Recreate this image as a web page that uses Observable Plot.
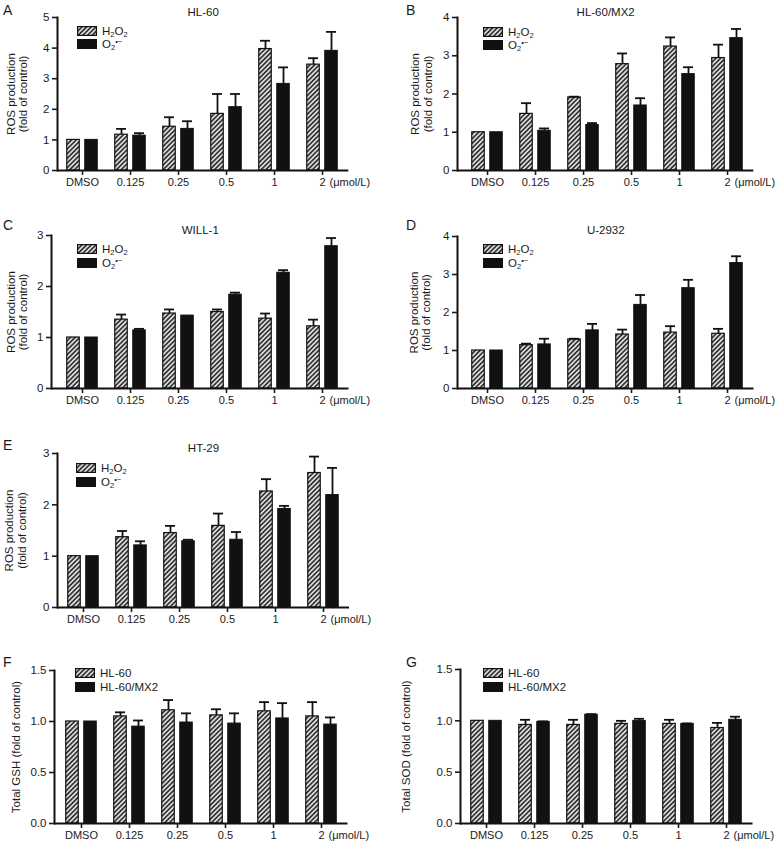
<!DOCTYPE html>
<html><head><meta charset="utf-8">
<script src="https://cdn.jsdelivr.net/npm/d3@7"></script>
<script src="https://cdn.jsdelivr.net/npm/@observablehq/plot@0.6"></script>
<style>
body{margin:0;background:#fff;font-family:"Liberation Sans",Arial,sans-serif;color:#1a1a1a;}
#root{position:relative;width:781px;height:846px;overflow:hidden;background:#fff;}
.panel{position:absolute;}
.letter{position:absolute;font-size:14px;line-height:14px;}
.lg{position:absolute;font-size:11.5px;line-height:12px;white-space:nowrap;}
.sw{position:absolute;width:20px;height:10px;box-sizing:border-box;}
sub{font-size:7.5px;vertical-align:-2px;line-height:0;}
sup{font-size:7.5px;vertical-align:4px;line-height:0;}
</style></head><body>
<svg width="0" height="0" style="position:absolute">
  <defs>
    <pattern id="hatch" patternUnits="userSpaceOnUse" width="3.3" height="3.3" patternTransform="rotate(45)">
      <rect width="3.3" height="3.3" fill="#dcdcdc"/>
      <rect width="1.6" height="3.3" fill="#2e2e2e"/>
    </pattern>
  </defs>
</svg>
<div id="root"></div>
<script>
// ---------- data ----------
const categories = ["DMSO", "0.125", "0.25", "0.5", "1", "2"];
const unitLabel = "(μmol/L)";
const rosSeries = ["H<sub>2</sub>O<sub>2</sub>", "O<sub>2</sub><sup>•−</sup>"];
const cellSeries = ["HL-60", "HL-60/MX2"];
const rosLabel = "ROS production\n(fold of control)";
const gshLabel = "Total GSH (fold of control)";
const sodLabel = "Total SOD (fold of control)";

// A  HL-60
const hl60H2O2 = [1.00, 1.17, 1.43, 1.85, 3.97, 3.46];
const hl60H2O2Err = [0, 0.19, 0.31, 0.65, 0.27, 0.21];
const hl60O2 = [1.00, 1.14, 1.36, 2.07, 2.83, 3.91];
const hl60O2Err = [0, 0.08, 0.25, 0.43, 0.54, 0.62];
// B  HL-60/MX2
const mx2H2O2 = [1.00, 1.48, 1.91, 2.78, 3.24, 2.94];
const mx2H2O2Err = [0, 0.28, 0.02, 0.28, 0.24, 0.35];
const mx2O2 = [1.00, 1.04, 1.19, 1.70, 2.52, 3.46];
const mx2O2Err = [0, 0.06, 0.05, 0.19, 0.18, 0.24];
// C  WILL-1
const willH2O2 = [1.00, 1.35, 1.47, 1.50, 1.37, 1.22];
const willH2O2Err = [0, 0.10, 0.08, 0.05, 0.10, 0.13];
const willO2 = [1.00, 1.14, 1.43, 1.84, 2.27, 2.79];
const willO2Err = [0, 0.03, 0, 0.04, 0.05, 0.16];
// D  U-2932
const u2932H2O2 = [1.00, 1.14, 1.29, 1.42, 1.47, 1.44];
const u2932H2O2Err = [0, 0.04, 0.02, 0.13, 0.17, 0.13];
const u2932O2 = [1.00, 1.16, 1.53, 2.20, 2.64, 3.30];
const u2932O2Err = [0, 0.15, 0.17, 0.26, 0.22, 0.18];
// E  HT-29
const ht29H2O2 = [1.00, 1.37, 1.45, 1.59, 2.26, 2.62];
const ht29H2O2Err = [0, 0.12, 0.14, 0.24, 0.24, 0.32];
const ht29O2 = [1.00, 1.21, 1.29, 1.32, 1.92, 2.19];
const ht29O2Err = [0, 0.08, 0.03, 0.15, 0.06, 0.53];
// F  Total GSH
const gshHL60 = [1.00, 1.05, 1.11, 1.06, 1.10, 1.05];
const gshHL60Err = [0, 0.04, 0.10, 0.06, 0.09, 0.14];
const gshMX2 = [1.00, 0.95, 0.99, 0.98, 1.03, 0.97];
const gshMX2Err = [0, 0.06, 0.09, 0.10, 0.15, 0.07];
// G  Total SOD
const sodHL60 = [1.00, 0.96, 0.96, 0.97, 0.97, 0.93];
const sodHL60Err = [0, 0.05, 0.05, 0.03, 0.04, 0.05];
const sodMX2 = [1.00, 0.99, 1.06, 1.00, 0.97, 1.01];
const sodMX2Err = [0, 0.005, 0.005, 0.02, 0.005, 0.03];

const ticks5 = [0, 1, 2, 3, 4, 5];
const ticks4 = [0, 1, 2, 3, 4];
const ticks3 = [0, 1, 2, 3];
const ticks15 = [0, 0.5, 1.0, 1.5];

// ---------- layout ----------
const STEP = 48.5, OFF = 9, BARW = 13, CAPW = 10.5;
const intFmt = d3.format("d"), decFmt = d3.format(".1f");
const root = document.getElementById("root");

function panel(p) {
  const rows = (v, e) => categories.map((c, i) => ({cat: c, v: v[i], e: e[i]}));
  const r1 = rows(p.s1, p.e1), r2 = rows(p.s2, p.e2);
  const frameRight = p.c0 + 5 * STEP + 25;
  const mL = p.axisX - p.left, mR = p.left + p.width - frameRight;
  const mT = p.frameTop - p.top, mB = p.top + p.height - p.frameBottom;
  const ins = (STEP - BARW) / 2, capIns = (STEP - CAPW) / 2;
  const err = (r, dx) => [
    Plot.ruleX(r.filter(d => d.e > 0), {x: "cat", y1: "v", y2: d => d.v + d.e, dx, stroke: "#111", strokeWidth: 1.8}),
    Plot.tickY(r.filter(d => d.e > 0), {x: "cat", y: d => d.v + d.e, dx, insetLeft: capIns, insetRight: capIns, stroke: "#111", strokeWidth: 1.8})
  ];
  const svg = Plot.plot({
    width: p.width, height: p.height,
    marginLeft: mL, marginRight: mR, marginTop: mT, marginBottom: mB,
    style: {fontFamily: "Liberation Sans, Arial, sans-serif", fontSize: "11px", color: "#1a1a1a", background: "transparent", overflow: "visible"},
    x: {type: "band", domain: categories, padding: 0, insetLeft: p.c0 - STEP / 2 - p.axisX, insetRight: 0.75, axis: null},
    y: {domain: [0, p.ymax], axis: null},
    marks: [
      Plot.barY(r1, {x: "cat", y: "v", fill: "url(#hatch)", stroke: "#111", strokeWidth: 1.2, dx: -OFF, insetLeft: ins, insetRight: ins}),
      Plot.barY(r2, {x: "cat", y: "v", fill: "#111", stroke: "#111", strokeWidth: 1, dx: OFF, insetLeft: ins, insetRight: ins}),
      ...err(r1, -OFF), ...err(r2, OFF),
      Plot.ruleY([0], {stroke: "#111", strokeWidth: 2}),
      Plot.frame({anchor: "left", stroke: "#111", strokeWidth: 2}),
      Plot.axisY(p.yticks, {tickSize: 5, tickPadding: 3, fontSize: 11.5, strokeWidth: 1.6, tickFormat: p.fmt, label: null}),
      Plot.axisX({tickSize: 5, tickPadding: 3, fontSize: 11, strokeWidth: 1.6, label: null}),
      Plot.text([{cat: categories[categories.length - 1], y0: 0, t: unitLabel}], {x: "cat", y: "y0", text: "t", dx: 7, dy: 8, textAnchor: "start", lineAnchor: "top", fontSize: 11}),
      p.title ? Plot.text([p.title], {frameAnchor: "top", dy: p.titleY - p.frameTop, lineAnchor: "middle", fontSize: 11.5}) : null,
      Plot.text([p.ylabel], {frameAnchor: "left", dx: p.labelX - p.axisX, rotate: -90, textAnchor: "middle", lineAnchor: "middle", fontSize: 11.5, lineHeight: 1.1})
    ]
  });
  const wrap = document.createElement("div");
  wrap.className = "panel";
  wrap.style.left = p.left + "px"; wrap.style.top = p.top + "px";
  wrap.appendChild(svg);
  root.appendChild(wrap);

  const letter = document.createElement("div");
  letter.className = "letter";
  letter.textContent = p.letter;
  letter.style.left = p.letterX + "px"; letter.style.top = (p.letterY - 2) + "px";
  root.appendChild(letter);

  p.legend.forEach((name, i) => {
    const sw = document.createElement("div");
    sw.className = "sw";
    sw.style.left = p.lgX + "px"; sw.style.top = p.lgY[i] + "px";
    sw.innerHTML = i === 0
      ? '<svg width="20" height="10" style="display:block"><rect x="0.6" y="0.6" width="18.8" height="8.8" fill="url(#hatch)" stroke="#111" stroke-width="1.2"/></svg>'
      : '<svg width="20" height="10" style="display:block"><rect width="20" height="10" fill="#111"/></svg>';
    root.appendChild(sw);
    const t = document.createElement("div");
    t.className = "lg";
    t.innerHTML = name;
    t.style.left = (p.lgX + 25) + "px"; t.style.top = (p.lgY[i] - 1) + "px";
    root.appendChild(t);
  });
}

panel({letter: "A", letterX: 3, letterY: 5, title: "HL-60", titleY: 12, left: 0, top: 0, width: 390, height: 200,
  axisX: 57, c0: 80.8, frameTop: 17, frameBottom: 170, ymax: 5, yticks: ticks5, fmt: intFmt, ylabel: rosLabel, labelX: 16.5,
  s1: hl60H2O2, e1: hl60H2O2Err, s2: hl60O2, e2: hl60O2Err, legend: rosSeries, lgX: 77, lgY: [26, 39]});
panel({letter: "B", letterX: 406, letterY: 5, title: "HL-60/MX2", titleY: 12, left: 390, top: 0, width: 391, height: 200,
  axisX: 457, c0: 485.8, frameTop: 17, frameBottom: 170, ymax: 4, yticks: ticks4, fmt: intFmt, ylabel: rosLabel, labelX: 421,
  s1: mx2H2O2, e1: mx2H2O2Err, s2: mx2O2, e2: mx2O2Err, legend: rosSeries, lgX: 483, lgY: [27, 40]});
panel({letter: "C", letterX: 3, letterY: 220, title: "WILL-1", titleY: 230, left: 0, top: 215, width: 390, height: 203,
  axisX: 51, c0: 81, frameTop: 235, frameBottom: 388, ymax: 3, yticks: ticks3, fmt: intFmt, ylabel: rosLabel, labelX: 16.5,
  s1: willH2O2, e1: willH2O2Err, s2: willO2, e2: willO2Err, legend: rosSeries, lgX: 77, lgY: [244, 258]});
panel({letter: "D", letterX: 406, letterY: 220, title: "U-2932", titleY: 230, left: 390, top: 215, width: 391, height: 203,
  axisX: 457, c0: 486, frameTop: 236, frameBottom: 388, ymax: 4, yticks: ticks4, fmt: intFmt, ylabel: rosLabel, labelX: 419.5,
  s1: u2932H2O2, e1: u2932H2O2Err, s2: u2932O2, e2: u2932O2Err, legend: rosSeries, lgX: 483, lgY: [244, 258]});
panel({letter: "E", letterX: 3, letterY: 440, title: "HT-29", titleY: 448, left: 0, top: 430, width: 390, height: 207,
  axisX: 57, c0: 81.5, frameTop: 453, frameBottom: 607, ymax: 3, yticks: ticks3, fmt: intFmt, ylabel: rosLabel, labelX: 15,
  s1: ht29H2O2, e1: ht29H2O2Err, s2: ht29O2, e2: ht29O2Err, legend: rosSeries, lgX: 76, lgY: [463, 477]});
panel({letter: "F", letterX: 3, letterY: 657, title: null, left: 0, top: 650, width: 390, height: 196,
  axisX: 54, c0: 80, frameTop: 670, frameBottom: 823, ymax: 1.5, yticks: ticks15, fmt: decFmt, ylabel: gshLabel, labelX: 15,
  s1: gshHL60, e1: gshHL60Err, s2: gshMX2, e2: gshMX2Err, legend: cellSeries, lgX: 75, lgY: [668, 682]});
panel({letter: "G", letterX: 406, letterY: 657, title: null, left: 390, top: 650, width: 391, height: 196,
  axisX: 460, c0: 485, frameTop: 669, frameBottom: 823, ymax: 1.5, yticks: ticks15, fmt: decFmt, ylabel: sodLabel, labelX: 405,
  s1: sodHL60, e1: sodHL60Err, s2: sodMX2, e2: sodMX2Err, legend: cellSeries, lgX: 483, lgY: [668, 682]});
</script>
</body></html>
